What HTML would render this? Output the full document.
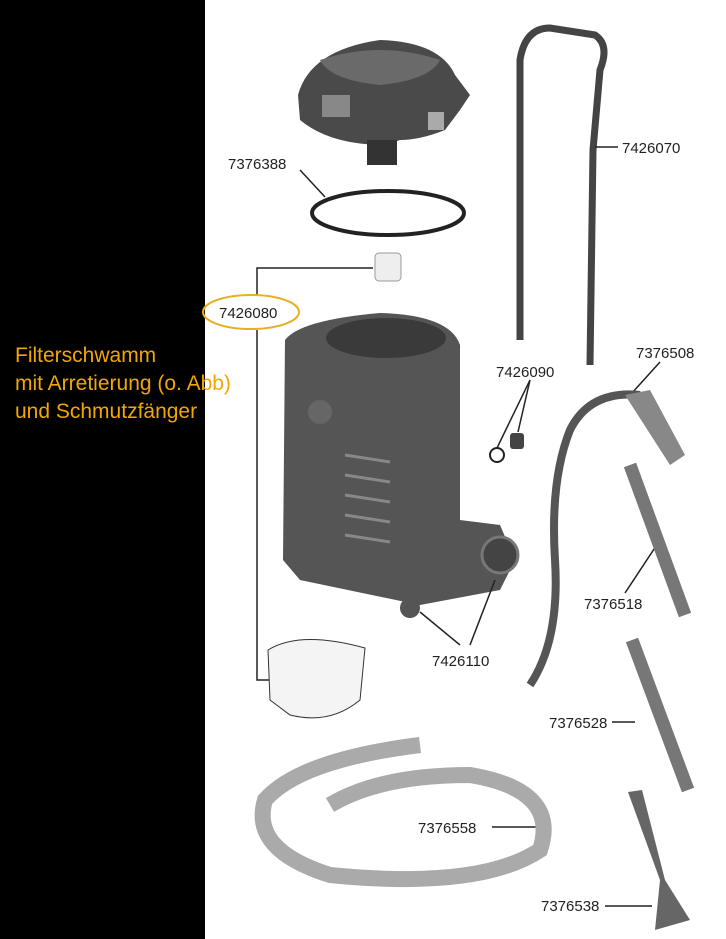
<!DOCTYPE html>
<html><head><style>
html,body{margin:0;padding:0;background:#fff;}
svg{display:block}
</style></head><body>
<svg width="726" height="939" viewBox="0 0 726 939" xmlns="http://www.w3.org/2000/svg" font-family="Liberation Sans, sans-serif">
<rect width="726" height="939" fill="#fff"/>
<rect width="205" height="939" fill="#000"/>
<path d="M298 95 Q310 50 380 40 Q440 42 455 75 L470 95 L460 110 L445 130 Q420 140 400 140 L385 145 Q330 145 300 120 Z" fill="#4a4a4a"/>
<path d="M320 60 Q380 40 440 60 Q430 80 380 85 Q330 80 320 60Z" fill="#6a6a6a"/>
<rect x="322" y="95" width="28" height="22" fill="#888"/>
<rect x="428" y="112" width="16" height="18" fill="#aaa"/>
<rect x="367" y="140" width="30" height="25" fill="#333"/>
<ellipse cx="388" cy="213" rx="76" ry="22" fill="none" stroke="#222" stroke-width="4"/>
<rect x="375" y="253" width="26" height="28" rx="4" fill="#eee" stroke="#999"/>
<path d="M285 340 Q300 320 380 313 Q450 315 460 345 L460 520 L500 525 L515 560 L500 590 L420 605 L300 580 L283 560 Z" fill="#555"/>
<ellipse cx="386" cy="338" rx="60" ry="20" fill="#3a3a3a"/>
<g stroke="#888" stroke-width="3">
<line x1="345" y1="455" x2="390" y2="462"/><line x1="345" y1="475" x2="390" y2="482"/><line x1="345" y1="495" x2="390" y2="502"/><line x1="345" y1="515" x2="390" y2="522"/><line x1="345" y1="535" x2="390" y2="542"/>
</g>
<circle cx="500" cy="555" r="18" fill="#444" stroke="#777" stroke-width="3"/>
<circle cx="320" cy="412" r="12" fill="#666"/>
<circle cx="410" cy="608" r="10" fill="#555"/>
<path d="M520 340 L520 60 Q525 28 550 28 L595 35 Q610 45 600 70 L593 150 L590 365" fill="none" stroke="#444" stroke-width="7"/>
<g stroke="#222" stroke-width="1.5" fill="none">
<line x1="300" y1="170" x2="325" y2="197"/>
<line x1="595" y1="147" x2="618" y2="147"/>
<polyline points="373,268 257,268 257,296"/>
<polyline points="257,330 257,680 280,680"/>
<line x1="530" y1="380" x2="497" y2="448"/><line x1="530" y1="380" x2="518" y2="432"/>
<line x1="660" y1="362" x2="632" y2="393"/>
<line x1="625" y1="593" x2="660" y2="540"/>
<line x1="460" y1="645" x2="420" y2="612"/><line x1="470" y1="645" x2="495" y2="580"/>
<line x1="612" y1="722" x2="635" y2="722"/>
<line x1="492" y1="827" x2="545" y2="827"/>
<line x1="605" y1="906" x2="652" y2="906"/>
</g>
<circle cx="497" cy="455" r="7" fill="none" stroke="#222" stroke-width="2"/>
<rect x="510" y="433" width="14" height="16" rx="3" fill="#444"/>
<path d="M640 395 Q590 390 570 430 Q550 480 555 560 Q560 640 530 685" fill="none" stroke="#555" stroke-width="8"/>
<path d="M625 395 L650 390 L685 455 L670 465 Z" fill="#888"/>
<line x1="630" y1="465" x2="685" y2="615" stroke="#777" stroke-width="13"/>
<line x1="632" y1="640" x2="688" y2="790" stroke="#777" stroke-width="13"/>
<path d="M628 792 L642 790 L665 880 L690 920 L655 930 L660 880 Z" fill="#666"/>
<path d="M268 650 Q300 630 365 648 L360 700 Q330 725 290 715 L270 700 Z" fill="#f4f4f4" stroke="#333"/>
<path d="M420 745 Q300 760 265 800 Q250 850 330 875 Q480 890 540 850 Q560 790 470 775 Q380 775 330 805" fill="none" stroke="#aaa" stroke-width="16"/>
<g font-size="15" fill="#222">
<text x="228" y="169">7376388</text>
<text x="622" y="153">7426070</text>
<text x="219" y="318">7426080</text>
<text x="496" y="377">7426090</text>
<text x="636" y="358">7376508</text>
<text x="584" y="609">7376518</text>
<text x="432" y="666">7426110</text>
<text x="549" y="728">7376528</text>
<text x="418" y="833">7376558</text>
<text x="541" y="911">7376538</text>
</g>
<ellipse cx="251" cy="312" rx="48" ry="17" fill="none" stroke="#e8b020" stroke-width="2"/>
<g font-size="21" fill="#f0a800">
<text x="15" y="362">Filterschwamm</text>
<text x="15" y="390">mit Arretierung (o. Abb)</text>
<text x="15" y="418">und Schmutzfänger</text>
</g>
</svg>
</body></html>
